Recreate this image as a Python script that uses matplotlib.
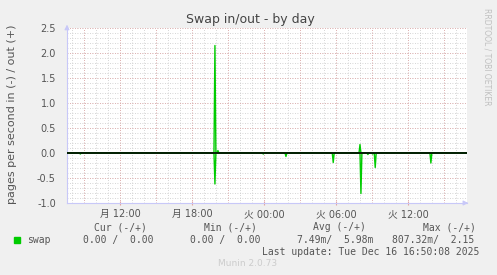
import matplotlib.pyplot as plt

OUTPUT_FILENAME = "out.png"

# hours counted from Monday 00:00; one sample = 5 minutes
START_HOUR = 7.58
END_HOUR = 40.92

# swap in (pages/s, drawn below zero)
in_hours = [7.58, 8.61, 8.69, 8.77, 19.83, 19.91, 19.99, 23.86, 23.94, 24.02,
            25.75, 25.83, 25.91, 29.69, 29.77, 29.85, 32.0, 32.08, 32.16,
            32.58, 32.66, 32.74, 32.97, 33.05, 33.13, 33.19, 33.27, 33.35,
            37.83, 37.91, 37.99, 40.92]
in_values = [0, 0, 0.02, 0, 0, 0.62, 0, 0, 0.02, 0,
             0, 0.07, 0, 0, 0.19, 0, 0, 0.81, 0,
             0, 0.03, 0, 0, 0.02, 0, 0, 0.29, 0,
             0, 0.20, 0, 0]

# swap out (pages/s, drawn above zero)
out_hours = [7.58, 19.83, 19.91, 19.99, 20.08, 20.16, 20.24, 31.92, 32.0, 32.08, 40.92]
out_values = [0, 0, 2.15, 0, 0, 0.05, 0, 0, 0.17, 0, 0]

tick_hours = [12, 18, 24, 30, 36]
tick_labels = ["月 12:00", "月 18:00", "火 00:00", "火 06:00", "火 12:00"]

BG = "#F0F0F0"
GREEN = "#00CC00"
TEXT = "#555555"
AXIS_BLUE = "#C8C8F8"
MAJOR_GRID = "#E2A4A4"
MINOR_GRID = "#C8C8C8"


def main() -> None:
    fig = plt.figure(figsize=(4.97, 2.75), dpi=100, facecolor=BG)
    ax = fig.add_axes([67 / 497, 1 - 203 / 275, 400 / 497, 175 / 275])
    ax.set_facecolor("white")

    ax.set_xlim(START_HOUR, END_HOUR)
    ax.set_ylim(-1.0, 2.5)

    # grid: minor every hour / 0.1, major every 3 h / 0.5
    minor_x = [h for h in range(8, 41)]
    major_x = [h for h in range(9, 41, 3)]
    minor_y = [y / 10 for y in range(-10, 26)]
    major_y = [y / 2 for y in range(-2, 6)]
    for h in minor_x:
        ax.axvline(h, color=MINOR_GRID, lw=0.6, ls=(0, (1, 2)), zorder=0)
    for y in minor_y:
        ax.axhline(y, color=MINOR_GRID, lw=0.6, ls=(0, (1, 2)), zorder=0)
    for h in major_x:
        ax.axvline(h, color=MAJOR_GRID, lw=0.6, ls=(0, (1, 2)), zorder=1)
    for y in major_y:
        ax.axhline(y, color=MAJOR_GRID, lw=0.6, ls=(0, (1, 2)), zorder=1)

    ax.plot(in_hours, [-v for v in in_values], color=GREEN, lw=1.0, zorder=4)
    ax.plot(out_hours, out_values, color=GREEN, lw=1.0, zorder=4)
    ax.axhline(0, color="black", lw=1.2, zorder=5)

    # axes look
    for side in ("top", "right"):
        ax.spines[side].set_visible(False)
    for side in ("left", "bottom"):
        ax.spines[side].set_color(AXIS_BLUE)
        ax.spines[side].set_linewidth(0.8)
    ax.annotate("", xy=(0, 1.035), xytext=(0, 0.98), xycoords="axes fraction",
                arrowprops=dict(arrowstyle="-|>", color=AXIS_BLUE, lw=0.8,
                                mutation_scale=7))
    ax.annotate("", xy=(1.01, 0), xytext=(0.99, 0), xycoords="axes fraction",
                arrowprops=dict(arrowstyle="-|>", color=AXIS_BLUE, lw=0.8,
                                mutation_scale=7))

    ax.set_yticks(major_y)
    ax.set_yticklabels([f"{y:.1f}" for y in major_y])
    ax.tick_params(axis="y", length=0, pad=8, labelsize=7, labelcolor=TEXT)
    ax.set_xticks(tick_hours)
    ax.set_xticklabels(tick_labels, family=["DejaVu Sans", "Noto Sans CJK JP"])
    ax.tick_params(axis="x", length=3, direction="inout", color=MAJOR_GRID,
                   pad=3, labelsize=7, labelcolor=TEXT)

    fig.text(12 / 497, 1 - 114 / 275, "pages per second in (-) / out (+)",
             rotation=90, ha="center", va="center", fontsize=8, color=TEXT)

    fig.text(250 / 497, 1 - 19 / 275, "Swap in/out - by day", ha="center",
             va="center", fontsize=9, color="#444444")

    # legend block under the graph
    mono = dict(family="DejaVu Sans Mono", fontsize=7, color=TEXT, va="center")
    row1 = 1 - 227 / 275
    row2 = 1 - 240 / 275
    row3 = 1 - 252 / 275
    fig.text(94 / 497, row1, "Cur (-/+)", **mono)
    fig.text(204 / 497, row1, "Min (-/+)", **mono)
    fig.text(313 / 497, row1, "Avg (-/+)", **mono)
    fig.text(423 / 497, row1, "Max (-/+)", **mono)
    fig.patches.append(plt.Rectangle((14 / 497, 1 - 243 / 275), 6 / 497, 6 / 275,
                                     transform=fig.transFigure, color=GREEN))
    fig.text(27 / 497, row2, "swap", **mono)
    fig.text(83 / 497, row2, "0.00 /  0.00", **mono)
    fig.text(190 / 497, row2, "0.00 /  0.00", **mono)
    fig.text(297 / 497, row2, "7.49m/  5.98m", **mono)
    fig.text(392 / 497, row2, "807.32m/  2.15", **mono)
    fig.text(262 / 497, row3, "Last update: Tue Dec 16 16:50:08 2025", **mono)

    fig.text(248 / 497, 1 - 264 / 275, "Munin 2.0.73", ha="center", va="center",
             fontsize=6.5, color="#CCCCCC")
    fig.text(487 / 497, 1 - 8 / 275, "RRDTOOL / TOBI OETIKER", rotation=270,
             ha="center", va="top", fontsize=5.5, color="#C0C0C0")

    fig.savefig(OUTPUT_FILENAME, dpi=100, facecolor=BG)


if __name__ == "__main__":
    main()
